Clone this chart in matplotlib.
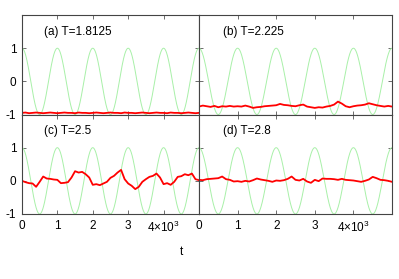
import numpy as np
import matplotlib
matplotlib.use("Agg")
import matplotlib.pyplot as plt

plt.rcParams['font.family'] = ['Liberation Sans', 'DejaVu Sans']
plt.rcParams['mathtext.fontset'] = 'custom'
plt.rcParams['mathtext.rm'] = 'Liberation Sans'

# time axis in units of 10^3 steps, sampled every 100 steps
t = np.arange(0, 51) / 10.0

# applied field: amplitude and period (in 10^3 steps)
field_amp = 1.0
field_period = 1.0

m_a = [-0.95, -0.94, -0.96, -0.95, -0.94, -0.95, -0.96, -0.95, -0.94, -0.95,
       -0.96, -0.95, -0.94, -0.95, -0.95, -0.96, -0.94, -0.95, -0.95, -0.96,
       -0.95, -0.94, -0.95, -0.96, -0.95, -0.94, -0.95, -0.95, -0.96, -0.94,
       -0.95, -0.95, -0.96, -0.95, -0.94, -0.95, -0.96, -0.95, -0.94, -0.95,
       -0.95, -0.96, -0.94, -0.95, -0.95, -0.96, -0.95, -0.94, -0.95, -0.96,
       -0.95]
m_b = [-0.76, -0.73, -0.75, -0.77, -0.74, -0.78, -0.75, -0.76, -0.74, -0.76,
       -0.75, -0.76, -0.73, -0.76, -0.80, -0.78, -0.77, -0.75, -0.74, -0.73,
       -0.72, -0.68, -0.71, -0.72, -0.74, -0.75, -0.72, -0.70, -0.76, -0.78,
       -0.80, -0.78, -0.79, -0.76, -0.74, -0.70, -0.61, -0.67, -0.75, -0.78,
       -0.75, -0.73, -0.72, -0.70, -0.66, -0.69, -0.72, -0.74, -0.76, -0.74,
       -0.76]
m_c = [0.00, -0.04, -0.07, -0.08, -0.18, -0.03, 0.13, 0.07, 0.06, 0.04,
       0.03, -0.07, -0.06, -0.04, 0.10, 0.29, 0.25, 0.27, 0.20, 0.10,
       -0.12, -0.10, -0.13, -0.08, -0.03, 0.09, 0.15, 0.25, 0.33, 0.05,
       -0.08, -0.15, -0.25, -0.18, -0.03, 0.05, 0.12, 0.15, 0.22, 0.10,
       -0.10, -0.07, -0.12, -0.03, 0.12, 0.14, 0.20, 0.17, 0.22, 0.05,
       0.02]
m_d = [0.03, 0.02, 0.05, 0.06, 0.07, 0.08, 0.13, 0.05, 0.03, -0.02,
       -0.01, -0.03, 0.00, -0.02, 0.02, 0.07, 0.04, 0.02, 0.00, -0.03,
       0.01, 0.00, 0.02, 0.06, 0.13, 0.03, 0.01, 0.06, -0.02, -0.06,
       0.03, -0.01, 0.07, 0.06, 0.06, 0.05, 0.03, 0.06, 0.03, 0.02,
       0.01, -0.01, -0.03, 0.00, 0.04, 0.12, 0.08, 0.03, 0.02, 0.00,
       -0.03]

labels = ['(a) T=1.8125', '(b) T=2.225', '(c) T=2.5', '(d) T=2.8']
series = [m_a, m_b, m_c, m_d]

xticks = [0, 1, 2, 3, 4]
xticklabels = ['0', '1', '2', '3', '4×10$^{3}$']
yticks = [-1, 0, 1, 2]
yticklabels = ['-1', '0', '1', '']

fig = plt.figure(figsize=(3.99, 2.79), dpi=100)
gs = fig.add_gridspec(2, 2, left=0.055, right=0.9825, top=0.946, bottom=0.233,
                      wspace=0, hspace=0, width_ratios=[177, 193])

t_fine = np.linspace(0, 5, 1001)
field = field_amp * np.cos(2 * np.pi * t_fine / field_period)

for i in range(4):
    ax = fig.add_subplot(gs[i // 2, i % 2])
    ax.plot(t_fine, field, color='#a8f0a8', lw=0.7)
    ax.plot(t, series[i], color='#ff0000', lw=1.3)
    ax.set_xlim(0, 5)
    ax.set_ylim(-1, 2)
    ax.set_xticks(xticks)
    ax.set_yticks(yticks)
    ax.tick_params(direction='in', length=3, width=0.6, top=True, right=True,
                   labelsize=8.5, pad=4, color='#555555')
    if i % 2 == 0:
        ax.set_yticklabels(yticklabels)
    else:
        ax.set_yticklabels([])
    if i // 2 == 1:
        ax.set_xticklabels(xticklabels)
    else:
        ax.set_xticklabels([])
    for s in ax.spines.values():
        s.set_color('#444444')
        s.set_linewidth(0.8)
    ax.text(0.125, 0.83, labels[i], transform=ax.transAxes, fontsize=8.5,
            ha='left', va='center')

fig.text(181 / 399, 1 - 252 / 279, 't', fontsize=8.5, ha='center', va='center')

fig.savefig('out.png', dpi=100)
